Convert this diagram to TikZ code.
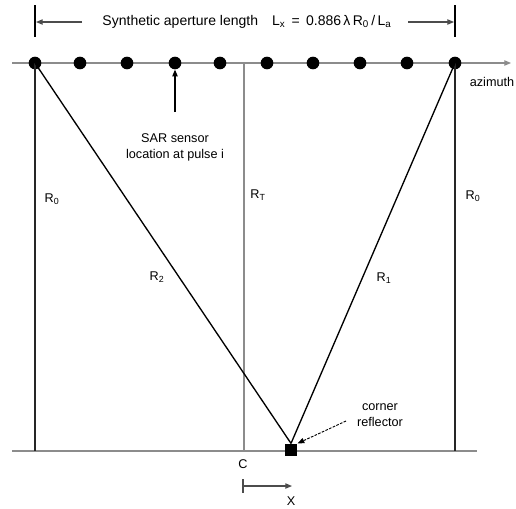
\documentclass[tikz,border=0pt]{standalone}
\usepackage{fontspec}
\setmainfont{Liberation Sans}
\usetikzlibrary{arrows.meta}
\begin{document}
\begin{tikzpicture}[x=0.75pt,y=-0.75pt,
  lbl/.style={inner sep=0pt,font=\fontsize{9.5}{11}\selectfont},
  sensor/.style={circle,fill=black,inner sep=0pt,minimum size=9.5pt},
  grayline/.style={draw=black!45,line width=0.8pt},
  darkline/.style={draw=black!85,line width=0.9pt},
  tip/.style={-{Triangle[length=5pt,width=4pt]}}]
\useasboundingbox (0,0) rectangle (516,508);
% azimuth line
\coordinate (azA) at (12,63);
\coordinate (azB) at (511,63);
\draw[grayline,tip] (azA) -- (azB);
\node[lbl] (azlbl) at (492,82) {azimuth};
% sensor positions
\foreach \i/\x in {1/35,2/80,3/127,4/175,5/220,6/267,7/313,8/360,9/407,10/455}
  \node[sensor] (s\i) at (\x,63) {};
% ground
\coordinate (gA) at (12,451);
\coordinate (gB) at (477,451);
\draw[grayline] (gA) -- (gB);
\coordinate (gL) at (35,451);
\coordinate (gR) at (455,451);
\coordinate (cTop) at (244,63);
\coordinate (cBot) at (244,451);
\draw[darkline] (s1.center) -- (gL);
\draw[darkline] (s10.center) -- (gR);
\draw[grayline] (cTop) -- (cBot);
% corner reflector
\node[fill=black,inner sep=0pt,minimum size=9.5pt] (cr) at (291,450) {};
\draw[black,line width=1pt] (s1.center) -- (cr.north);
\draw[black,line width=1pt] (s10.center) -- (cr.north);
% aperture length
\coordinate (bL1) at (35,5); \coordinate (bL2) at (35,37);
\coordinate (bR1) at (455,5); \coordinate (bR2) at (455,37);
\draw[black,line width=0.9pt] (bL1) -- (bL2);
\draw[black,line width=0.9pt] (bR1) -- (bR2);
\node[lbl,font=\fontsize{10.5}{12}\selectfont] (title) at (247,22)
  {Synthetic aperture length\quad L\textsubscript{x}\, = \,0.886\,λ\,R\textsubscript{0}\,/\,L\textsubscript{a}};
\coordinate (aL) at (36,22); \coordinate (aLs) at (82,22);
\coordinate (aR) at (454,22); \coordinate (aRs) at (408,22);
\draw[black!70,line width=0.8pt,tip] (aLs) -- (aL);
\draw[black!70,line width=0.8pt,tip] (aRs) -- (aR);
% sensor label
\node[lbl,align=center] (slbl) at (175,147) {SAR sensor\\[1pt]location at pulse i};
\coordinate (sArr) at (175,112);
\draw[black,line width=0.8pt,tip] (sArr) -- (s4.south);
% range labels
\node[lbl] (r0l) at (52,199) {R\textsubscript{0}};
\node[lbl] (rtc) at (258,195) {R\textsubscript{T}};
\node[lbl] (r0r) at (473,196) {R\textsubscript{0}};
\node[lbl] (r2) at (157,277) {R\textsubscript{2}};
\node[lbl] (r1) at (384,278) {R\textsubscript{1}};
% corner reflector label
\node[lbl,align=center] (crlbl) at (380,415) {corner\\[1pt]reflector};
\coordinate (crA) at (346,421);
\draw[black,line width=0.7pt,dashed,dash pattern=on 2pt off 1pt,tip] (crA) -- (cr.north east);
% C and X
\node[lbl] (clbl) at (243,464) {C};
\coordinate (xA) at (243,486); \coordinate (xB) at (292,486);
\coordinate (xb1) at (243,479); \coordinate (xb2) at (243,493);
\draw[black!70,line width=0.8pt] (xb1) -- (xb2);
\draw[black!70,line width=0.8pt,tip] (xA) -- (xB);
\node[lbl] (xlbl) at (291,501) {X};
\end{tikzpicture}
\end{document}
